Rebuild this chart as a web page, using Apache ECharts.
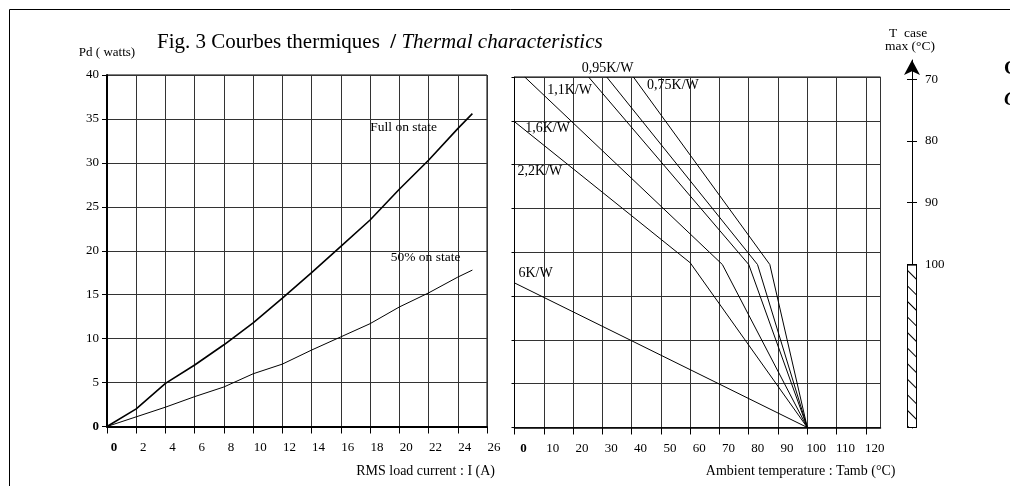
<!DOCTYPE html>
<html>
<head>
<meta charset="utf-8">
<script src="https://cdn.jsdelivr.net/npm/echarts@6/dist/echarts.min.js"></script>
<style>
  html, body { margin: 0; padding: 0; background: #fff; }
  #chart { width: 1010px; height: 486px; }
</style>
</head>
<body>
<div id="chart"></div>
<script>
// left plot: dissipated power vs RMS current
const currentA = [0, 2, 4, 6, 8, 10, 12, 14, 16, 18, 20, 22, 24, 25];
const powerFullOn = [0, 2.0, 4.9, 7.0, 9.3, 11.8, 14.6, 17.5, 20.5, 23.5, 27.0, 30.3, 33.9, 35.6];
const powerHalfOn = [0, 1.1, 2.2, 3.4, 4.5, 6.0, 7.1, 8.7, 10.2, 11.7, 13.6, 15.2, 17.0, 17.8];

// right plot: power vs ambient temperature for each heatsink Rth
const tamb075 = [40.6, 87.2, 100];
const tamb095 = [31.5, 83, 100];
const tamb11 = [25.3, 80, 100];
const tamb16 = [3.5, 71, 100];
const tamb22 = [0, 60, 100];
const tamb6 = [0, 100];
const pw075 = [40, 18.6, 0];
const pw095 = [40, 18.6, 0];
const pw11 = [40, 18.6, 0];
const pw16 = [40, 18.6, 0];
const pw22 = [34.9, 18.8, 0];
const pw6 = [16.5, 0];

// T case max scale
const tcaseTicks = [70, 80, 90, 100];
const tcaseLimit = 100;
const tcaseEnd = 126.5;

const FONT = 'Liberation Serif';
const GRID_COLOR = '#333';
const zip = (xs, ys) => xs.map((x, i) => [x, ys[i]]);

const chart = echarts.init(document.getElementById('chart'));

function note(text, coord, size, offset) {
  return {
    symbol: 'circle', symbolSize: 1, silent: true,
    itemStyle: { color: 'rgba(0,0,0,0)' },
    label: { show: true, position: 'inside', offset: offset || [0, 0], color: '#000', fontFamily: FONT, fontSize: size || 13.5 },
    data: [{ coord: coord, value: text, label: { formatter: text } }]
  };
}

function rthLine(t, p, text, coord, offset) {
  return {
    type: 'line', xAxisIndex: 1, yAxisIndex: 1,
    data: zip(t, p), symbol: 'none', silent: true,
    lineStyle: { color: '#000', width: 1 },
    markPoint: note(text, coord, 14, offset)
  };
}

const boldZero = v => (v === 0 ? '{b|0}' : String(v));
const tickText = { fontFamily: FONT, fontSize: 13, color: '#000' };
const boldRich = { b: { fontFamily: FONT, fontSize: 13, fontWeight: 'bold', color: '#000' } };

const option = {
  animation: false,
  backgroundColor: '#fff',
  textStyle: { fontFamily: FONT, color: '#000' },
  title: {
    text: '{a|Fig. 3 Courbes thermiques  }{s|/ }{i|Thermal characteristics}',
    left: 157, top: 32, padding: 0,
    textStyle: {
      fontWeight: 'normal',
      rich: {
        a: { fontFamily: FONT, fontSize: 21, fontWeight: 'normal', color: '#000' },
        s: { fontFamily: FONT, fontSize: 21, fontWeight: 'bold', color: '#000' },
        i: { fontFamily: FONT, fontSize: 21, fontWeight: 'normal', fontStyle: 'italic', color: '#000' }
      }
    }
  },
  graphic: [
    { type: 'rect', shape: { x: 9.5, y: 9.5, width: 1200, height: 700 }, style: { fill: 'none', stroke: '#000', lineWidth: 1 }, silent: true },
    { type: 'text', x: 889, y: 26, style: { text: 'T  case', fontFamily: FONT, fontSize: 13.5, fill: '#000' }, silent: true },
    { type: 'text', x: 885, y: 39, style: { text: 'max (°C)', fontFamily: FONT, fontSize: 13.5, fill: '#000' }, silent: true },
    { type: 'text', x: 1004, y: 60, style: { text: 'C', fontFamily: FONT, fontSize: 19, fontWeight: 'bold', fill: '#000' }, silent: true },
    { type: 'text', x: 1004, y: 91, style: { text: 'C', fontFamily: FONT, fontSize: 19, fontWeight: 'bold', fontStyle: 'italic', fill: '#000' }, silent: true }
  ],
  grid: [
    { left: 107, top: 75, width: 380, height: 351.5, show: true, borderColor: '#000', borderWidth: 1, backgroundColor: 'transparent' },
    { left: 514.5, top: 77, width: 366, height: 350.5, show: true, borderColor: '#000', borderWidth: 1, backgroundColor: 'transparent' },
    { left: 907, top: 60, width: 10, height: 368 }
  ],
  xAxis: [
    {
      gridIndex: 0, type: 'value', min: 0, max: 26, interval: 2,
      name: 'RMS load current : I (A)', nameLocation: 'end', nameGap: 8,
      nameTextStyle: { fontFamily: FONT, fontSize: 14, color: '#000', align: 'right', verticalAlign: 'top', padding: [38, 0, 0, 0] },
      axisLine: { lineStyle: { color: '#000', width: 2 } },
      axisTick: { length: 7, lineStyle: { color: '#000' } },
      axisLabel: Object.assign({ margin: 15, padding: [0, 0, 0, 14], formatter: boldZero, rich: boldRich }, tickText),
      splitLine: { show: true, lineStyle: { color: GRID_COLOR, width: 1 } }
    },
    {
      gridIndex: 1, type: 'value', min: 0, max: 125, interval: 10,
      name: 'Ambient temperature : Tamb (°C)', nameLocation: 'end', nameGap: 15,
      nameTextStyle: { fontFamily: FONT, fontSize: 14, color: '#000', align: 'right', verticalAlign: 'top', padding: [37, 0, 0, 0] },
      axisLine: { lineStyle: { color: '#000', width: 1.5 } },
      axisTick: { length: 7, lineStyle: { color: '#000' } },
      axisLabel: Object.assign({ margin: 15, padding: [0, 0, 0, 18], showMaxLabel: false, formatter: boldZero, rich: boldRich }, tickText),
      splitLine: { show: true, lineStyle: { color: GRID_COLOR, width: 1 } }
    },
    { gridIndex: 2, type: 'category', data: ['Tcase'], show: false }
  ],
  yAxis: [
    {
      gridIndex: 0, type: 'value', min: 0, max: 40, interval: 5,
      name: 'Pd ( watts)', nameGap: 16,
      nameTextStyle: { fontFamily: FONT, fontSize: 13, color: '#000' },
      axisLine: { show: true, lineStyle: { color: '#000', width: 2 } },
      axisTick: { show: true, length: 5, lineStyle: { color: '#000' } },
      axisLabel: Object.assign({ margin: 8, formatter: boldZero, rich: boldRich }, tickText),
      splitLine: { show: true, lineStyle: { color: GRID_COLOR, width: 1 } }
    },
    {
      gridIndex: 1, type: 'value', min: 0, max: 40, interval: 5,
      axisLine: { show: true, lineStyle: { color: '#000', width: 1 } },
      axisTick: { show: true, length: 3, lineStyle: { color: '#000' } },
      axisLabel: { show: false },
      splitLine: { show: true, lineStyle: { color: GRID_COLOR, width: 1 } }
    },
    {
      gridIndex: 2, type: 'value', min: 66.9, max: tcaseEnd, inverse: true,
      position: 'left', offset: -5,
      axisLine: { show: true, symbol: ['none', 'arrow'], symbolSize: [12, 15], lineStyle: { color: '#000', width: 1 } },
      axisTick: { show: false, customValues: tcaseTicks },
      axisLabel: Object.assign({ inside: true, margin: 13, customValues: tcaseTicks }, tickText),
      splitLine: { show: true, lineStyle: { color: '#000', width: 1 } }
    }
  ],
  series: [
    {
      name: 'Full on state', type: 'line', xAxisIndex: 0, yAxisIndex: 0,
      data: zip(currentA, powerFullOn), symbol: 'none', silent: true,
      lineStyle: { color: '#000', width: 1.6 },
      markPoint: note('Full on state', [20.3, 34.0])
    },
    {
      name: '50% on state', type: 'line', xAxisIndex: 0, yAxisIndex: 0,
      data: zip(currentA, powerHalfOn), symbol: 'none', silent: true,
      lineStyle: { color: '#000', width: 1 },
      markPoint: note('50% on state', [21.8, 19.2])
    },
    rthLine(tamb075, pw075, '0,75K/W', [54.1, 39.0]),
    rthLine(tamb095, pw095, '0,95K/W', [31.8, 40], [0, -9]),
    rthLine(tamb11, pw11, '1,1K/W', [18.8, 38.5]),
    rthLine(tamb16, pw16, '1,6K/W', [11.3, 34.1]),
    rthLine(tamb22, pw22, '2,2K/W', [8.7, 29.2]),
    rthLine(tamb6, pw6, '6K/W', [7.2, 17.6]),
    {
      type: 'bar', xAxisIndex: 2, yAxisIndex: 2, stack: 'tcase', silent: true,
      data: [tcaseLimit], barWidth: '100%',
      itemStyle: { color: 'rgba(0,0,0,0)' }
    },
    {
      type: 'bar', xAxisIndex: 2, yAxisIndex: 2, stack: 'tcase', silent: true,
      data: [tcaseEnd - tcaseLimit], barWidth: '100%',
      itemStyle: {
        color: '#fff', borderColor: '#000', borderWidth: 1,
        decal: { symbol: 'rect', symbolSize: 1, color: '#000', dashArrayX: [1, 0], dashArrayY: [1, 10], rotation: Math.PI / 4 }
      }
    }
  ]
};

chart.setOption(option);
window.addEventListener('resize', () => chart.resize());
</script>
</body>
</html>
